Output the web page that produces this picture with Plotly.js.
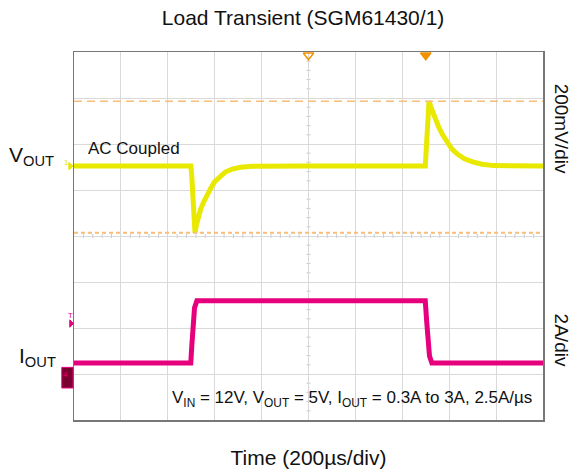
<!DOCTYPE html>
<html>
<head>
<meta charset="utf-8">
<script src="https://cdn.plot.ly/plotly-3.0.1.min.js"></script>
<style>html,body{margin:0;padding:0;background:#fff;}#chart{width:574px;height:473px;}</style>
</head>
<body>
<div id="chart"></div>
<script>
// ---- data ----
// time in microseconds (200 us/div, 10 div)
const voutTime = [0, 498, 502, 508, 516, 522, 530, 540, 552, 566, 582, 600, 620, 645, 675, 710, 760, 820, 1000,
                  1498, 1502, 1508, 1514, 1520, 1530, 1542, 1556, 1572, 1590, 1610, 1635, 1665, 1700, 1740, 1790, 1850, 2000];
// AC-coupled output deviation in mV (200 mV/div)
const voutMv   = [0, 0, -40, -150, -290, -255, -220, -188, -158, -128, -98, -68, -46, -26, -13, -5, -1, 0, 0,
                  0, 60, 180, 282, 262, 232, 200, 168, 136, 104, 76, 52, 32, 18, 8, 2, 0, 0];
const ioutTime = [0, 498, 502, 508, 514, 524, 1498, 1504, 1510, 1516, 1526, 2000];
// load current in A (2 A/div)
const ioutA    = [0.3, 0.3, 1.0, 2.2, 2.7, 3.0, 3.0, 2.1, 1.1, 0.6, 0.3, 0.3];
const cursorMv = [282, -290];
const triggerTimes = [1000, 1500];

const FONT = 'Arial, "Liberation Sans", sans-serif';
const YEL = '#E8E800', MAG = '#E6007E', ORG = '#F39200', CUR = '#F8BD7A';

// axis ranges: 8 vertical divisions
const vZeroDiv = 5.52, iZeroDiv = 1.09;
const vRange = [-vZeroDiv * 200, (8 - vZeroDiv) * 200];
const iRange = [-iZeroDiv * 2, (8 - iZeroDiv) * 2];

const traces = [
  {x: voutTime, y: voutMv, yaxis: 'y2', mode: 'lines', line: {color: YEL, width: 5}, hoverinfo: 'skip'},
  {x: ioutTime, y: ioutA, yaxis: 'y3', mode: 'lines', line: {color: MAG, width: 5}, hoverinfo: 'skip'},
  {x: triggerTimes, y: [7.93, 7.93], yaxis: 'y', mode: 'markers', cliponaxis: false,
   marker: {symbol: ['triangle-down-open', 'triangle-down'], size: 9, color: ORG, line: {color: ORG, width: 1.5}}, hoverinfo: 'skip'}
];

const shapes = [];
// cursors
shapes.push({type: 'line', xref: 'paper', x0: 0, x1: 1, yref: 'y2', y0: cursorMv[0], y1: cursorMv[0], line: {color: CUR, width: 1.5, dash: '8px,5px'}});
shapes.push({type: 'line', xref: 'paper', x0: 0, x1: 1, yref: 'y2', y0: cursorMv[1], y1: cursorMv[1], line: {color: CUR, width: 2, dash: '4px,3px'}});
// minor ticks on centre lines
for (let k = 1; k < 50; k++) {
  if (k % 5 === 0) continue;
  shapes.push({type: 'line', xref: 'x', yref: 'y', ysizemode: 'pixel', yanchor: 4, y0: -2, y1: 2, x0: k * 40, x1: k * 40, line: {color: '#c8c8c8', width: 1}, layer: 'below'});
}
for (let k = 1; k < 40; k++) {
  if (k % 5 === 0) continue;
  shapes.push({type: 'line', xref: 'x', yref: 'y', xsizemode: 'pixel', xanchor: 1000, x0: -2, x1: 2, y0: k * 0.2, y1: k * 0.2, line: {color: '#c8c8c8', width: 1}, layer: 'below'});
}
// channel 4 ground marker box
shapes.push({type: 'rect', xref: 'paper', yref: 'paper', x0: -0.026, x1: -0.002, y0: 0.087, y1: 0.143, fillcolor: '#7A0030', line: {color: MAG, width: 1}});
// ch1 marker arrow
shapes.push({type: 'path', xref: 'paper', yref: 'paper', path: 'M -0.011 0.700 L -0.002 0.690 L -0.011 0.680 Z', fillcolor: YEL, line: {color: YEL, width: 1}});
// trigger level marker
shapes.push({type: 'path', xref: 'paper', yref: 'paper', path: 'M -0.009 0.272 L -0.001 0.262 L -0.009 0.252 Z', fillcolor: MAG, line: {color: MAG, width: 1}});

const annotations = [
  {text: 'V<sub>OUT</sub>', xref: 'paper', yref: 'paper', x: -0.142, y: 0.717, xanchor: 'left', yanchor: 'middle', showarrow: false, font: {family: FONT, size: 21, color: '#111'}},
  {text: 'I<sub>OUT</sub>', xref: 'paper', yref: 'paper', x: -0.122, y: 0.170, xanchor: 'left', yanchor: 'middle', showarrow: false, font: {family: FONT, size: 21, color: '#111'}},
  {text: 'AC Coupled', xref: 'paper', yref: 'paper', x: 0.026, y: 0.737, xanchor: 'left', yanchor: 'middle', showarrow: false, font: {family: FONT, size: 17, color: '#111'}},
  {text: 'V<sub>IN</sub> = 12V, V<sub>OUT</sub> = 5V, I<sub>OUT</sub> = 0.3A to 3A, 2.5A/µs', xref: 'paper', yref: 'paper', x: 0.98, y: 0.058, xanchor: 'right', yanchor: 'middle', showarrow: false, font: {family: FONT, size: 17, color: '#111'}},
  {text: '200mV/div', xref: 'paper', yref: 'paper', x: 1.0395, y: 0.793, xanchor: 'center', yanchor: 'middle', textangle: 90, showarrow: false, borderpad: 0, font: {family: FONT, size: 19, color: '#111'}},
  {text: '2A/div', xref: 'paper', yref: 'paper', x: 1.0395, y: 0.217, xanchor: 'center', yanchor: 'middle', textangle: 90, showarrow: false, borderpad: 0, font: {family: FONT, size: 19, color: '#111'}},
  {text: '1', xref: 'paper', yref: 'paper', x: -0.017, y: 0.700, xanchor: 'center', yanchor: 'middle', showarrow: false, font: {family: FONT, size: 8, color: YEL}},
  {text: 'T', xref: 'paper', yref: 'paper', x: -0.008, y: 0.285, xanchor: 'center', yanchor: 'middle', showarrow: false, font: {family: FONT, size: 8, color: MAG}},
  {text: '4', xref: 'paper', yref: 'paper', x: -0.019, y: 0.125, xanchor: 'center', yanchor: 'middle', showarrow: false, font: {family: FONT, size: 8, color: MAG}}
];

const layout = {
  width: 574, height: 473,
  margin: {l: 74, r: 31, t: 52, b: 53},
  paper_bgcolor: '#fff', plot_bgcolor: '#fff',
  showlegend: false,
  title: {text: 'Load Transient (SGM61430/1)', x: 0.528, xanchor: 'center', y: 0.962, yanchor: 'middle', font: {family: FONT, size: 21, color: '#111'}},
  xaxis: {range: [0, 2000], dtick: 200, tick0: 0, showticklabels: false, ticks: '', showgrid: true, gridcolor: '#d9d9d9', gridwidth: 1, zeroline: false,
          showline: true, mirror: true, linecolor: '#777', linewidth: 1.5,
          title: {text: 'Time (200µs/div)', standoff: 30, font: {family: FONT, size: 21, color: '#111'}}, automargin: false, fixedrange: true},
  yaxis: {range: [0, 8], dtick: 1, tick0: 0, showticklabels: false, ticks: '', showgrid: true, gridcolor: '#d9d9d9', gridwidth: 1, zeroline: false,
          showline: true, mirror: true, linecolor: '#777', linewidth: 1.5, fixedrange: true},
  yaxis2: {range: vRange, overlaying: 'y', showgrid: false, showticklabels: false, ticks: '', zeroline: false, showline: false, fixedrange: true},
  yaxis3: {range: iRange, overlaying: 'y', showgrid: false, showticklabels: false, ticks: '', zeroline: false, showline: false, fixedrange: true},
  shapes: shapes,
  annotations: annotations
};

Plotly.newPlot('chart', traces, layout, {displayModeBar: false, staticPlot: true});
</script>
</body>
</html>
